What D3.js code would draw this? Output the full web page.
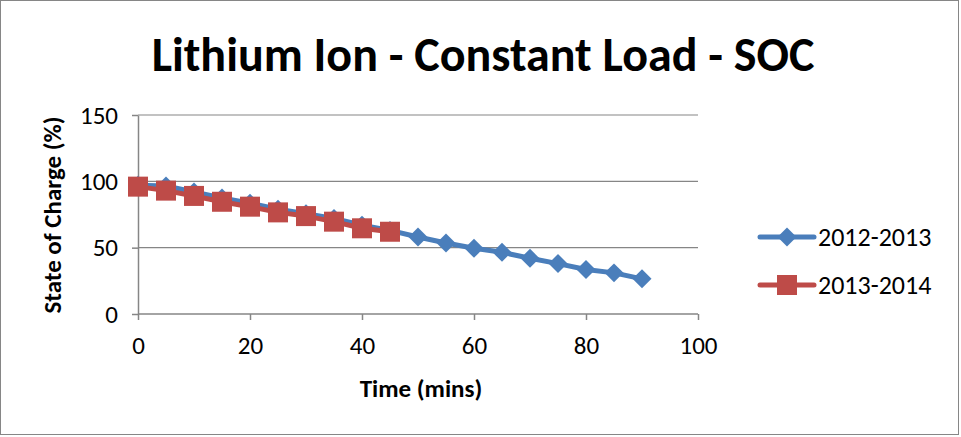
<!DOCTYPE html>
<html><head><meta charset="utf-8">
<script src="https://cdn.jsdelivr.net/npm/d3@7"></script>
<style>body{margin:0;background:#fff;} svg{display:block;}</style>
</head><body>
<svg id="c" width="961" height="437"></svg>
<script>
const title = "Lithium Ion - Constant Load - SOC";
const xTitle = "Time (mins)";
const yTitle = "State of Charge (%)";
const xTicks = [0, 20, 40, 60, 80, 100];
const yTicks = [0, 50, 100, 150];
const seriesNames = ["2012-2013", "2013-2014"];
const times1 = [0,5,10,15,20,25,30,35,40,45,50,55,60,65,70,75,80,85,90];
const soc1 = [97,96.5,92,87.5,83.5,79,75.5,72,67,63,58,53.5,49.5,46.5,42,38,33.5,31,26.5];
const times2 = [0,5,10,15,20,25,30,35,40,45];
const soc2 = [96,93,89,84.6,80.9,76.6,73.8,69.6,64.6,62];
const colors = ["#4a7ebb", "#be4b48"];

const svg = d3.select("#c");
const font = "Carlito, Calibri, Lato, 'Open Sans', sans-serif";
svg.append("rect").attr("x",0.5).attr("y",0.5).attr("width",958).attr("height",434)
  .attr("fill","#fff").attr("stroke","#868686").attr("stroke-width",1);

const x = d3.scaleLinear().domain([0,100]).range([138,698]);
const y = d3.scaleLinear().domain([0,150]).range([314,115]);

// gridlines
svg.append("g").selectAll("line").data(yTicks.filter(d=>d>0)).join("line")
  .attr("x1",x(0)).attr("x2",x(100)).attr("y1",d=>y(d)).attr("y2",d=>y(d))
  .attr("stroke","#868686").attr("stroke-width",1.2);

const gx = svg.append("g").attr("transform",`translate(0,${y(0)})`)
  .call(d3.axisBottom(x).tickValues(xTicks).tickSize(6).tickPadding(16).tickSizeOuter(0));
const gy = svg.append("g").attr("transform",`translate(${x(0)},0)`)
  .call(d3.axisLeft(y).tickValues(yTicks).tickSize(6).tickPadding(14).tickSizeOuter(0));
[gx,gy].forEach(g=>{
  g.select(".domain").attr("stroke","#868686").attr("stroke-width",1.5);
  g.selectAll(".tick line").attr("stroke","#868686").attr("stroke-width",1.5);
  g.selectAll("text").attr("font-family",font).attr("font-size",25).attr("fill","#000");
});
gx.select(".domain").attr("d",`M${x(0)},0H${x(100)}`);

const line = d3.line().x(d=>x(d[0])).y(d=>y(d[1]));
const data1 = times1.map((t,i)=>[t,soc1[i]]);
const data2 = times2.map((t,i)=>[t,soc2[i]]);

function drawSeries(data, color, kind){
  svg.append("path").datum(data).attr("d",line).attr("fill","none")
    .attr("stroke",color).attr("stroke-width",5).attr("stroke-linejoin","round");
  const g = svg.append("g");
  if(kind==="diamond"){
    g.selectAll("path").data(data).join("path")
      .attr("d",d3.symbol().type(d3.symbolSquare).size(180))
      .attr("transform",d=>`translate(${x(d[0])},${y(d[1])}) rotate(45)`)
      .attr("fill",color);
  } else {
    g.selectAll("rect").data(data).join("rect")
      .attr("x",d=>x(d[0])-10).attr("y",d=>y(d[1])-10).attr("width",20).attr("height",20)
      .attr("fill",color);
  }
}
drawSeries(data1, colors[0], "diamond");
drawSeries(data2, colors[1], "square");

// legend
const leg = svg.append("g");
seriesNames.forEach((n,i)=>{
  const ly = 237 + i*48;
  leg.append("line").attr("x1",760).attr("x2",814).attr("y1",ly).attr("y2",ly)
    .attr("stroke",colors[i]).attr("stroke-width",5).attr("stroke-linecap","round");
  if(i===0){
    leg.append("path").attr("d",d3.symbol().type(d3.symbolSquare).size(180))
      .attr("transform",`translate(787,${ly}) rotate(45)`).attr("fill",colors[i]);
  } else {
    leg.append("rect").attr("x",787-10).attr("y",ly-10).attr("width",20).attr("height",20).attr("fill",colors[i]);
  }
  leg.append("text").attr("x",818).attr("y",ly+8.5).text(n)
    .attr("font-family",font).attr("font-size",26).attr("fill","#000");
});

svg.append("text").attr("x",483).attr("y",71).attr("text-anchor","middle").text(title)
  .attr("font-family",font).attr("font-weight","bold").attr("font-size",48).attr("fill","#000");
svg.append("text").attr("x",421).attr("y",397).attr("text-anchor","middle").text(xTitle)
  .attr("font-family",font).attr("font-weight","bold").attr("font-size",25).attr("fill","#000");
svg.append("text").attr("transform","translate(61,215) rotate(-90)").attr("text-anchor","middle").text(yTitle)
  .attr("font-family",font).attr("font-weight","bold").attr("font-size",25).attr("fill","#000");
</script>
</body></html>
